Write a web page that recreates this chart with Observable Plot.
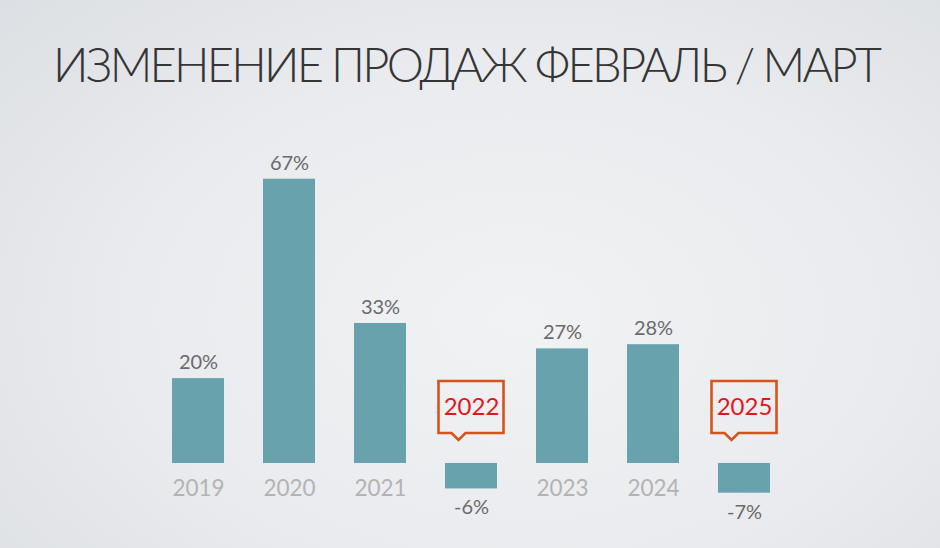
<!DOCTYPE html>
<html>
<head>
<meta charset="utf-8">
<script src="https://cdn.jsdelivr.net/npm/d3@7"></script>
<script src="https://cdn.jsdelivr.net/npm/@observablehq/plot@0.6"></script>
<style>
  html, body { margin: 0; padding: 0; }
  body {
    width: 940px; height: 548px; overflow: hidden; position: relative;
    background: radial-gradient(ellipse 75% 85% at 55% 58%, #f1f2f4 0%, #e9ebee 55%, #dcdfe3 100%);
    font-family: Lato, "Open Sans", sans-serif;
  }
  #title {
    position: absolute; left: 53px; top: 41px; margin: 0;
    font-family: Lato, "Open Sans", sans-serif; font-weight: 300;
    font-size: 47px; color: #353535; white-space: nowrap; line-height: 1;
    letter-spacing: 0px;
  }
  #chart { position: absolute; left: 0; top: 0; }
</style>
</head>
<body>
<div id="title">ИЗМЕНЕНИЕ ПРОДАЖ ФЕВРАЛЬ / МАРТ</div>
<div id="chart"></div>
<script>
const years = ["2019", "2020", "2021", "2022", "2023", "2024", "2025"];
const values = [20, 67, 33, -6, 27, 28, -7];
const valueLabels = ["20%", "67%", "33%", "-6%", "27%", "28%", "-7%"];
const highlighted = ["2022", "2025"];

const data = years.map((year, i) => ({year, value: values[i], label: valueLabels[i], hl: highlighted.includes(year)}));

// fit title width
const title = document.getElementById("title");
const targetW = 829;
const w0 = title.getBoundingClientRect().width;
const n = title.textContent.length;
title.style.letterSpacing = ((targetW - w0) / (n - 1)) + "px";

function callouts(index, scales, values, dimensions, context) {
  const svg = d3.select(context.document.createElementNS("http://www.w3.org/2000/svg", "g"));
  const bw = scales.x.bandwidth();
  const y0 = scales.y(0);
  for (const d of data.filter(d => d.hl)) {
    const cx = scales.x(d.year) + bw / 2;
    const left = cx - 32.5, right = cx + 32.5;
    const top = y0 - 82, bottom = y0 - 30;
    const px = left + 20;
    const path = `M${left},${top}H${right}V${bottom}H${px + 7}L${px},${bottom + 7}L${px - 7},${bottom}H${left}Z`;
    svg.append("path").attr("d", path).attr("fill", "none")
      .attr("stroke", "#d5541c").attr("stroke-width", 2.6).attr("stroke-linejoin", "miter");
    svg.append("text").attr("x", cx + 0.5).attr("y", y0 - 56).attr("dy", "0.35em")
      .attr("text-anchor", "middle").attr("fill", "#e3161b")
      .attr("font-size", 24).attr("font-family", "Lato, 'Open Sans', sans-serif")
      .text(d.year);
  }
  return svg.node();
}

const chart = Plot.plot({
  width: 940,
  height: 548,
  marginLeft: 130,
  marginRight: 128,
  marginTop: 166,
  marginBottom: 42.6,
  style: {background: "transparent", fontFamily: "Lato, 'Open Sans', sans-serif"},
  x: {domain: years, padding: 0.433, axis: null},
  y: {domain: [-10, 70], axis: null},
  marks: [
    Plot.barY(data, {x: "year", y: "value", fill: "#67a2ad"}),
    Plot.text(data.filter(d => !d.hl), {x: "year", y: 0, text: "year", dy: 25, fontSize: 22.5, fill: "#b3b3b3"}),
    Plot.text(data.filter(d => d.value >= 0), {x: "year", y: "value", text: "label", dy: -16, fontSize: 20, fill: "#6a6a6a"}),
    Plot.text(data.filter(d => d.value < 0), {x: "year", y: "value", text: "label", dy: 19, fontSize: 20, fill: "#6a6a6a"}),
    callouts
  ]
});
document.getElementById("chart").appendChild(chart);
</script>
</body>
</html>
